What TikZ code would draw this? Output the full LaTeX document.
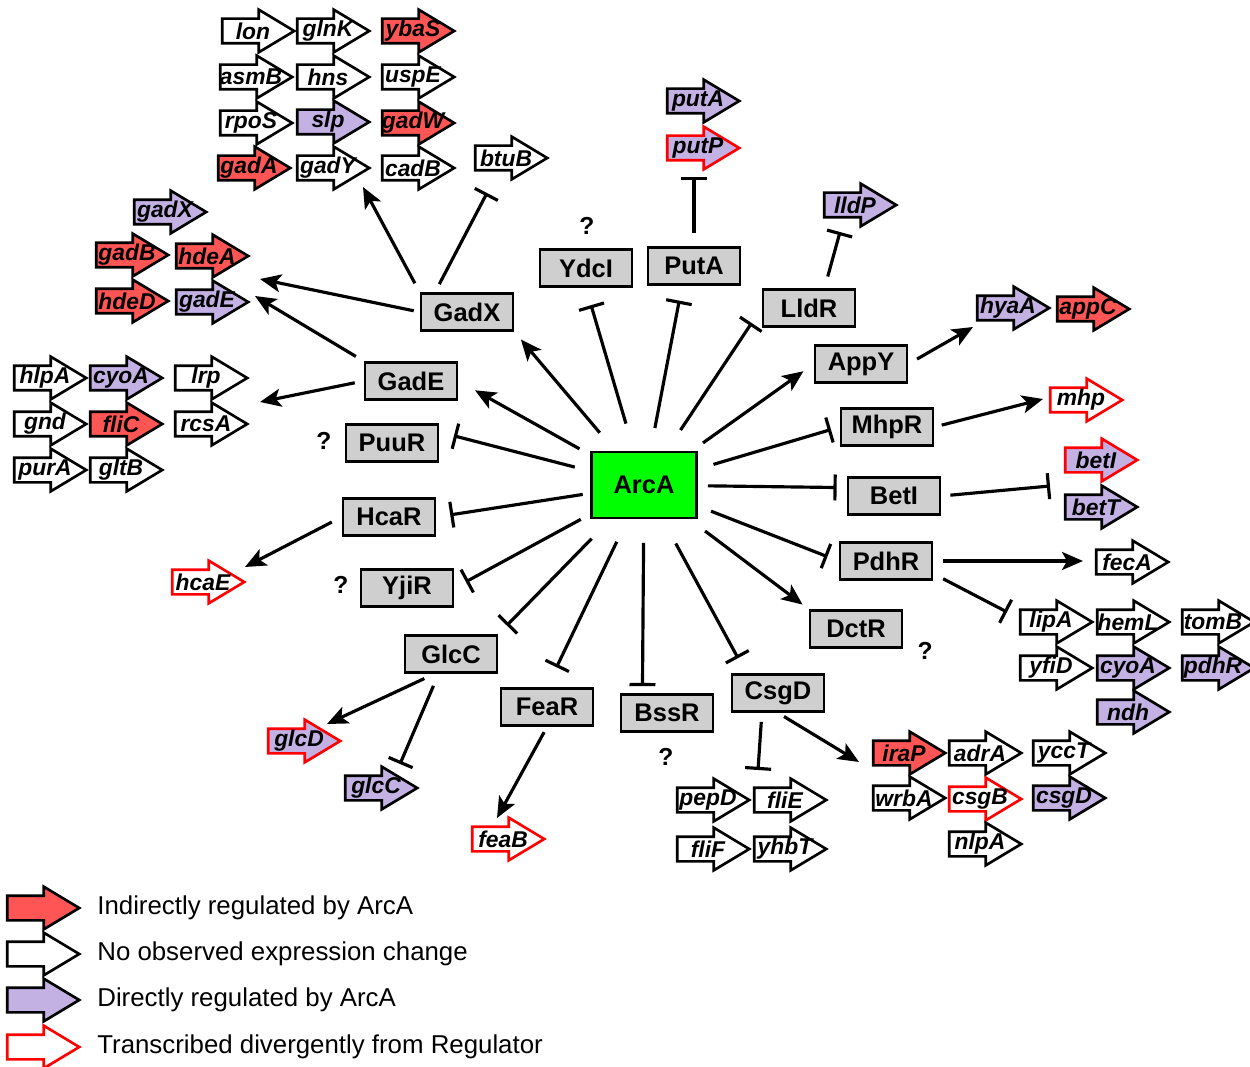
\documentclass[tikz,border=0pt]{standalone}
\usepackage{fontspec}
\setmainfont{Liberation Sans}
\usetikzlibrary{arrows.meta,shapes.arrows,calc,positioning}

\definecolor{indred}{HTML}{FF5555}
\definecolor{dirpurple}{HTML}{C4B1E4}
\definecolor{reggray}{HTML}{CFCFCF}
\definecolor{arcgreen}{HTML}{00FF00}

\begin{document}
\begin{tikzpicture}[x=0.02cm,y=-0.02cm,
  reg/.style={draw,line width=1.6pt,fill=reggray,minimum width=1.84cm,minimum height=0.74cm,inner sep=0pt,
    font=\fontsize{14.5}{16}\selectfont\bfseries},
  gtext/.style={font=\fontsize{13}{14}\selectfont\bfseries\itshape,inner sep=0pt},
  gene/.style={single arrow,draw,line width=1.5pt,fill=white,minimum height=1.44cm,minimum width=0.8cm,
    single arrow head extend=0.18cm,single arrow tip angle=62,inner xsep=0pt,inner ysep=0.22cm,
    xshift=-0.2cm,label={[gtext,xshift=0.1cm]center:#1}},
  ind/.style={gene=#1,fill=indred},
  dir/.style={gene=#1,fill=dirpurple},
  divg/.style={draw=red},
  act/.style={line width=1.8pt,-{Stealth[length=0.42cm,width=0.36cm,inset=0.1cm]}},
  inh/.style={line width=1.8pt,-{Bar[width=0.52cm]}},
  qmark/.style={font=\fontsize{14}{16}\selectfont\bfseries},
  legtext/.style={font=\fontsize{14.7}{16}\selectfont,anchor=west,inner sep=0pt}]

\useasboundingbox (0,0) rectangle (1250,1067);

% Regulators
\node (ArcA) at (644,485) [reg,fill=arcgreen,minimum width=2.1cm,minimum height=1.32cm] {ArcA};
\node (GadX) at (467,312) [reg] {GadX};
\node (GadE) at (411,381) [reg] {GadE};
\node (PuuR) at (392,443) [reg] {PuuR};
\node (HcaR) at (389,517) [reg] {HcaR};
\node (YjiR) at (407,588) [reg] {YjiR};
\node (GlcC) at (451,654) [reg] {GlcC};
\node (FeaR) at (547,707) [reg] {FeaR};
\node (BssR) at (667,713) [reg] {BssR};
\node (CsgD) at (778,693) [reg] {CsgD};
\node (DctR) at (856,629) [reg] {DctR};
\node (PdhR) at (886,561) [reg] {PdhR};
\node (BetI) at (894,496) [reg] {BetI};
\node (MhpR) at (887,427) [reg] {MhpR};
\node (AppY) at (861,364) [reg] {AppY};
\node (LldR) at (809,308) [reg] {LldR};
\node (PutA) at (694,266) [reg] {PutA};
\node (YdcI) at (586,268) [reg] {YdcI};

% Unknown effect
\node (qYdcI) at (587,226) [qmark] {?};
\node (qPuuR) at (324,441) [qmark] {?};
\node (qYjiR) at (341,585) [qmark] {?};
\node (qDctR) at (925,651) [qmark] {?};
\node (qBssR) at (666,757) [qmark] {?};

% Genes of GadX and GadE
\node (g-lon)  at (258,31)  [gene=lon] {};
\node (g-glnK) at (333,31)  [gene=glnK] {};
\node (g-ybaS) at (418,31)  [ind=ybaS] {};
\node (g-asmB) at (256,77)  [gene=asmB] {};
\node (g-hns)  at (333,77)  [gene=hns] {};
\node (g-uspE) at (418,77)  [gene=uspE] {};
\node (g-rpoS) at (256,123) [gene=rpoS] {};
\node (g-slp)  at (333,122) [dir=slp] {};
\node (g-gadW) at (418,123) [ind=gadW] {};
\node (g-gadA) at (254,168) [ind=gadA] {};
\node (g-gadY) at (333,168) [gene=gadY] {};
\node (g-cadB) at (418,168) [gene=cadB] {};
\node (g-btuB) at (511,158) [gene=btuB] {};
\node (g-gadX) at (170,212) [dir=gadX] {};
\node (g-gadB) at (132,255) [ind=gadB] {};
\node (g-hdeA) at (212,256) [ind=hdeA] {};
\node (g-hdeD) at (132,301) [ind=hdeD] {};
\node (g-gadE) at (212,302) [dir=gadE] {};
\node (g-hlpA) at (50,378)  [gene=hlpA] {};
\node (g-cyoA) at (126,378) [dir=cyoA] {};
\node (g-lrp)  at (211,378) [gene=lrp] {};
\node (g-gnd)  at (50,424)  [gene=gnd] {};
\node (g-fliC) at (126,424) [ind=fliC] {};
\node (g-rcsA) at (211,424) [gene=rcsA] {};
\node (g-purA) at (50,470)  [gene=purA] {};
\node (g-gltB) at (126,470) [gene=gltB] {};

% Genes, lower left
\node (g-hcaE) at (208,582) [gene=hcaE,divg] {};
\node (g-glcD) at (304,741) [dir=glcD,divg] {};
\node (g-glcC) at (381,788) [dir=glcC] {};
\node (g-feaB) at (508,839) [gene=feaB,divg] {};

% Genes of CsgD
\node (g-pepD) at (713,800) [gene=pepD] {};
\node (g-fliE) at (790,800) [gene=fliE] {};
\node (g-fliF) at (713,849) [gene=fliF] {};
\node (g-yhbT) at (790,849) [gene=yhbT] {};
\node (g-iraP) at (909,753) [ind=iraP] {};
\node (g-adrA) at (985,753) [gene=adrA] {};
\node (g-yccT) at (1069,753) [gene=yccT] {};
\node (g-wrbA) at (909,798) [gene=wrbA] {};
\node (g-csgB) at (985,799) [gene=csgB,divg] {};
\node (g-csgD) at (1069,798) [dir=csgD] {};
\node (g-nlpA) at (985,844) [gene=nlpA] {};

% Genes, right side
\node (g-putA) at (703,101) [dir=putA] {};
\node (g-putP) at (703,148) [dir=putP,divg] {};
\node (g-lldP) at (860,205) [dir=lldP] {};
\node (g-hyaA) at (1013,308) [dir=hyaA] {};
\node (g-appC) at (1093,309) [ind=appC] {};
\node (g-mhp)  at (1086,400) [gene=mhp,divg] {};
\node (g-betI) at (1101,460) [dir=betI,divg] {};
\node (g-betT) at (1101,507) [dir=betT] {};
\node (g-fecA) at (1132,562) [gene=fecA] {};
\node (g-lipA) at (1056,622) [gene=lipA] {};
\node (g-hemL) at (1133,622) [gene=hemL] {};
\node (g-tomB) at (1218,622) [gene=tomB] {};
\node (g-yfiD) at (1056,668) [gene=yfiD] {};
\node (g-cyoA2) at (1133,668) [dir=cyoA] {};
\node (g-pdhR) at (1218,668) [dir=pdhR] {};
\node (g-ndh)  at (1133,712) [dir=ndh] {};

% Free ends of the regulator edges
\coordinate (gadXa) at (363,187);
\coordinate (gadXb) at (487,193);
\coordinate (gadXc) at (260,279);
\coordinate (gadEa) at (255,296);
\coordinate (gadEb) at (260,402);
\coordinate (hcaRa) at (245,567);
\coordinate (glcCa) at (327,724);
\coordinate (glcCb) at (400,764);
\coordinate (feaRa) at (497,818);
\coordinate (csgDa) at (758,770);
\coordinate (csgDb) at (859,762);
\coordinate (putAa) at (694,177);
\coordinate (lldRa) at (840,232);
\coordinate (appYa) at (973,327);
\coordinate (mhpRa) at (1043,399);
\coordinate (betIa) at (1050,486);
\coordinate (pdhRa) at (1083,561);
\coordinate (pdhRb) at (1007,612);

% ArcA targets
\draw[act,shorten <=1.37cm,shorten >=0.2cm]  (ArcA.center) -- (GadX.south east);
\draw[act,shorten <=1.48cm,shorten >=0.38cm] (ArcA.center) -- (GadE.east);
\draw[inh,shorten <=1.43cm,shorten >=0.3cm]  (ArcA.center) -- (PuuR.13);
\draw[inh,shorten <=1.24cm,shorten >=0.28cm] (ArcA.center) -- (HcaR.east);
\draw[inh,shorten <=1.44cm,shorten >=0.26cm] (ArcA.center) -- (YjiR.east);
\draw[inh,shorten <=1.5cm,shorten >=0.24cm]  (ArcA.center) -- (GlcC.north east);
\draw[inh,shorten <=1.26cm,shorten >=0.44cm] (ArcA.center) -- (FeaR.north);
\draw[inh,shorten <=1.16cm,shorten >=0.14cm] (ArcA.center) -- (BssR.141);
\draw[inh,shorten <=1.33cm,shorten >=0.34cm] (ArcA.center) -- (CsgD.148);
\draw[act,shorten <=1.53cm,shorten >=0.15cm] (ArcA.center) -- (DctR.north west);
\draw[inh,shorten <=1.44cm,shorten >=0.24cm] (ArcA.center) -- (PdhR.west);
\draw[inh,shorten <=1.28cm,shorten >=0.2cm]  (ArcA.center) -- (BetI.170);
\draw[inh,shorten <=1.45cm,shorten >=0.18cm] (ArcA.center) -- (MhpR.west);
\draw[act,shorten <=1.45cm,shorten >=0.25cm] (ArcA.center) -- (AppY.west);
\draw[inh,shorten <=1.32cm,shorten >=0.36cm] (ArcA.center) -- (LldR.west);
\draw[inh,shorten <=1.16cm,shorten >=0.3cm]  (ArcA.center) -- (PutA.-121);
\draw[inh,shorten <=1.28cm,shorten >=0.36cm] (ArcA.center) -- (YdcI.south);

% Regulator targets
\draw[act,shorten <=0.2cm]  (GadX.north west) -- (gadXa);
\draw[inh,shorten <=0.18cm] (GadX.148) -- (gadXb);
\draw[act,shorten <=0.12cm] (GadX.west) -- (gadXc);
\draw[act,shorten <=0.18cm] (GadE.north west) -- (gadEa);
\draw[act,shorten <=0.18cm] (GadE.west) -- (gadEb);
\draw[act,shorten <=0.22cm] (HcaR.west) -- (hcaRa);
\draw[act,shorten <=0.22cm] (GlcC.-130) -- (glcCa);
\draw[inh,shorten <=0.26cm] (GlcC.-122) -- (glcCb);
\draw[act,shorten <=0.12cm] (FeaR.south) -- (feaRa);
\draw[inh,shorten <=0.18cm] (CsgD.-129) -- (csgDa);
\draw[act,shorten <=0.14cm] (CsgD.south) -- (csgDb);
\draw[inh,shorten <=0.26cm] (PutA.north) -- (putAa);
\draw[inh,shorten <=0.24cm] (LldR.52) -- (lldRa);
\draw[act,shorten <=0.2cm]  (AppY.east) -- (appYa);
\draw[act,shorten <=0.15cm] (MhpR.east) -- (mhpRa);
\draw[inh,shorten <=0.18cm] (BetI.east) -- (betIa);
\draw[act,shorten <=0.2cm]  (PdhR.east) -- (pdhRa);
\draw[inh,shorten <=0.22cm] (PdhR.-15) -- (pdhRb);

% Legend
\node (l-ind) at (43,908)  [ind={}] {};
\node (l-non) at (43,954)  [gene={}] {};
\node (l-dir) at (43,1000) [dir={}] {};
\node (l-div) at (43,1047) [gene={},divg] {};
\node (t-ind) at (97,908)  [legtext] {Indirectly regulated by ArcA};
\node (t-non) at (97,954)  [legtext] {No observed expression change};
\node (t-dir) at (97,1000) [legtext] {Directly regulated by ArcA};
\node (t-div) at (97,1047) [legtext] {Transcribed divergently from Regulator};

\end{tikzpicture}
\end{document}
